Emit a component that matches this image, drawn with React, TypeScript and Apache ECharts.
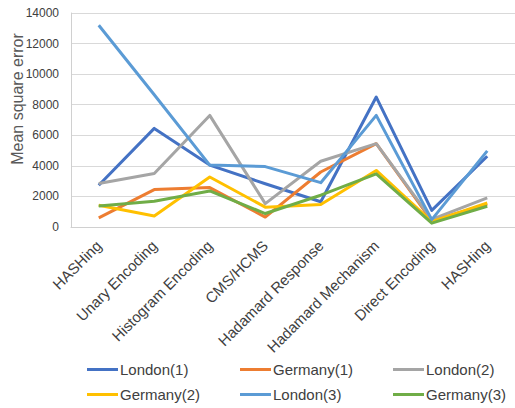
import React, { useEffect, useRef } from "react";
import * as echarts from "echarts";

// Frequency-estimation mechanisms compared on each dataset
const categories = [
  "HASHing",
  "Unary Encoding",
  "Histogram Encoding",
  "CMS/HCMS",
  "Hadamard Response",
  "Hadamard Mechanism",
  "Direct Encoding",
  "HASHing",
];

const london1 = [2730, 6450, 4050, 2830, 1650, 8500, 1090, 4630];
const germany1 = [600, 2450, 2580, 650, 3600, 5450, 400, 1500];
const london2 = [2850, 3500, 7300, 1530, 4300, 5450, 500, 1900];
const germany2 = [1420, 720, 3270, 1300, 1470, 3700, 350, 1570];
const london3 = [13200, 8650, 4050, 3950, 2900, 7300, 480, 4980];
const germany3 = [1380, 1680, 2360, 880, 2080, 3480, 250, 1360];

const seriesNames = ["London(1)", "Germany(1)", "London(2)", "Germany(2)", "London(3)", "Germany(3)"];
const seriesValues = [london1, germany1, london2, germany2, london3, germany3];
const colors = ["#4472C4", "#ED7D31", "#A5A5A5", "#FFC000", "#5B9BD5", "#70AD47"];

const yTicks = { min: 0, max: 14000, interval: 2000 };
const yTitle = "Mean square error";

const FONT = "'Liberation Sans', Arial, sans-serif";

export default function App() {
  const ref = useRef<HTMLDivElement>(null);

  useEffect(() => {
    if (!ref.current) return;
    const chart = echarts.init(ref.current, undefined, { renderer: "svg" });

    // legend laid out as a 3 x 2 table
    const legendCols = [87, 240, 393];
    const legendRows = [362, 387];
    const legends = seriesNames.map((name, i) => ({
      data: [name],
      left: legendCols[i % 3],
      top: legendRows[Math.floor(i / 3)],
      icon: "rect",
      itemWidth: 31,
      itemHeight: 3,
      itemGap: 0,
      padding: 0,
      textStyle: { fontFamily: FONT, fontSize: 15, color: "#404040", padding: [0, 0, 0, -3] },
    }));

    chart.setOption({
      animation: false,
      backgroundColor: "#ffffff",
      grid: { left: 71, top: 13, width: 453, height: 214, containLabel: false },
      legend: legends,
      xAxis: {
        type: "category",
        data: categories,
        boundaryGap: true,
        axisLine: { show: true, lineStyle: { color: "#d0d0d0", width: 1 } },
        axisTick: { show: false },
        axisLabel: {
          interval: 0,
          rotate: 45,
          margin: 16,
          fontFamily: FONT,
          fontSize: 15,
          color: "#404040",
        },
      },
      yAxis: {
        type: "value",
        min: yTicks.min,
        max: yTicks.max,
        interval: yTicks.interval,
        axisLine: { show: true, lineStyle: { color: "#d0d0d0", width: 1 } },
        axisTick: { show: false },
        splitLine: { show: true, lineStyle: { color: "#d9d9d9", width: 1 } },
        axisLabel: {
          margin: 12,
          fontFamily: FONT,
          fontSize: 12,
          color: "#404040",
          formatter: (v: number) => String(v),
        },
      },
      graphic: [
        {
          type: "text",
          x: 17,
          y: 99,
          rotation: Math.PI / 2,
          style: {
            text: yTitle,
            fontFamily: FONT,
            fontSize: 16,
            fill: "#595959",
            align: "center",
            verticalAlign: "middle",
          },
        },
      ],
      series: seriesNames.map((name, i) => ({
        name,
        type: "line",
        data: seriesValues[i],
        showSymbol: false,
        symbol: "none",
        lineStyle: { width: 3, color: colors[i], join: "round" },
        itemStyle: { color: colors[i] },
      })),
    });

    return () => chart.dispose();
  }, []);

  return (
    <div
      ref={ref}
      style={{ position: "fixed", left: 0, top: 0, width: 515, height: 408, background: "#fff" }}
    />
  );
}
